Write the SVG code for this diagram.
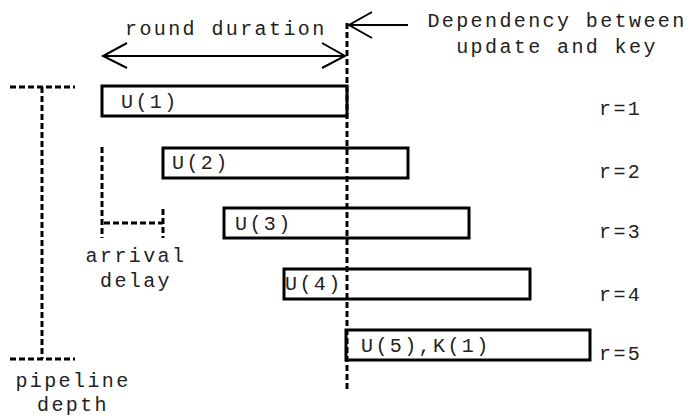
<svg xmlns="http://www.w3.org/2000/svg" width="694" height="417" viewBox="0 0 694 417">
<style>
text{font-family:"Liberation Mono","Courier New",monospace;font-size:20px;letter-spacing:2.4px;fill:#222}
.m{text-anchor:middle}
.box{fill:#fff;stroke:#000;stroke-width:3}
.dash{fill:none;stroke:#000;stroke-width:3;stroke-dasharray:6 3}
.arr{fill:none;stroke:#000;stroke-width:2}
</style>
<rect width="694" height="417" fill="#fff"/>
<g id="connectors">
<path class="arr" d="M103 56 H345 M127 43 L103 56 L127 68 M322 43 L345 56 L322 68"/>
<path class="arr" d="M349 25 H408 M372 12 L349 25 L372 38"/>
<path class="dash" d="M10 87 H75 M42 87 V359 M10 359 H75"/>
<path class="dash" d="M102 147 V238 M104 223 H163 M163 209 V238"/>
</g>
<g id="u1"><rect class="box" x="102" y="86" width="245" height="30"/><text x="121" y="108">U(1)</text></g>
<g id="u2"><rect class="box" x="163" y="148" width="245" height="30"/><text x="172" y="169">U(2)</text></g>
<g id="u3"><rect class="box" x="224" y="208" width="245" height="30"/><text x="235" y="230">U(3)</text></g>
<g id="u4"><rect class="box" x="284" y="269" width="246" height="30"/><text x="285" y="290">U(4)</text></g>
<g id="u5"><rect class="box" x="346" y="330" width="244" height="30"/><text x="361" y="352">U(5),K(1)</text></g>
<g id="dep-line"><path class="dash" d="M347 23 V392"/></g>
<g id="labels">
<text x="125" y="35">round duration</text>
<text x="557" y="27" class="m">Dependency between</text>
<text x="557" y="53" class="m">update and key</text>
<text x="599" y="115">r=1</text>
<text x="599" y="178">r=2</text>
<text x="599" y="238">r=3</text>
<text x="599" y="301">r=4</text>
<text x="599" y="360">r=5</text>
<text x="136" y="262" class="m">arrival</text>
<text x="136" y="287" class="m">delay</text>
<text x="73" y="387" class="m">pipeline</text>
<text x="73" y="411" class="m">depth</text>
</g>
</svg>
